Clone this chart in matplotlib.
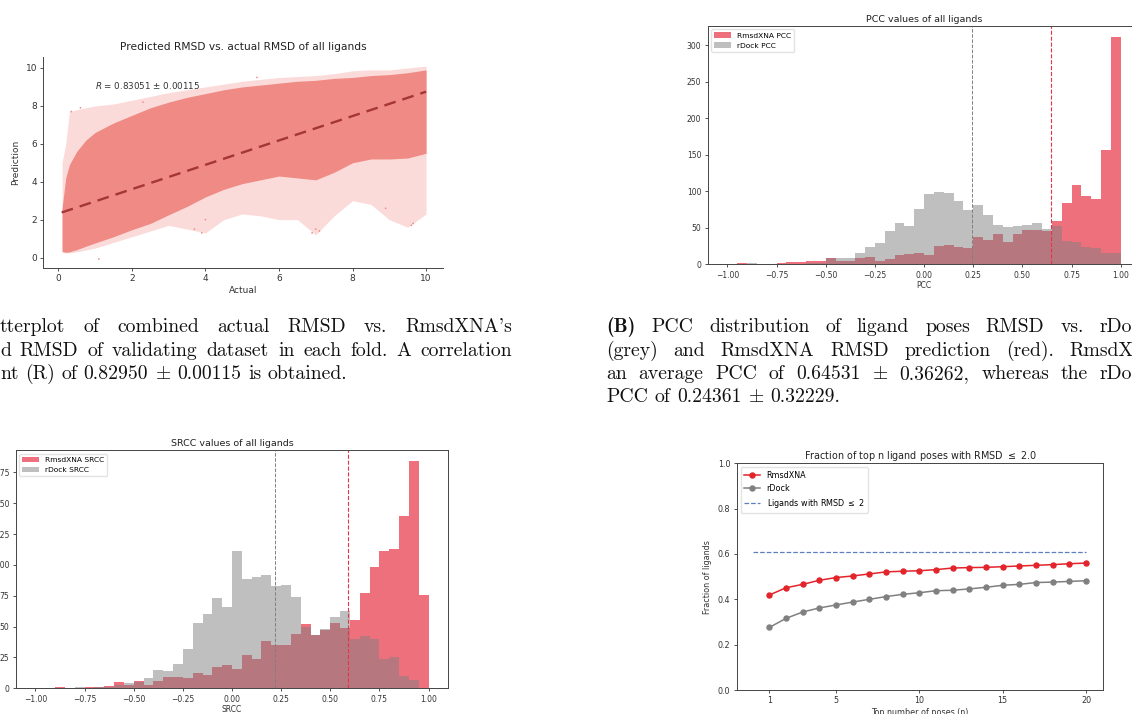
import numpy as np
import matplotlib
matplotlib.use("Agg")
import matplotlib.pyplot as plt

W, H = 1132, 714

# ---- panel A: predicted vs actual RMSD (point cloud read as envelopes) ----
cloud_x = [0.1, 0.2, 0.3, 0.5, 0.75, 1.0, 1.5, 2.0, 2.5, 3.0, 3.5, 4.0, 4.5, 5.0,
           5.5, 6.0, 6.5, 7.0, 7.5, 8.0, 8.5, 9.0, 9.5, 10.0]
dense_top = [2.6, 4.2, 4.9, 5.6, 6.2, 6.6, 7.1, 7.5, 7.9, 8.2, 8.45, 8.65, 8.85, 9.0,
             9.1, 9.2, 9.3, 9.35, 9.45, 9.5, 9.6, 9.65, 9.75, 9.9]
dense_bot = [0.33, 0.28, 0.3, 0.42, 0.6, 0.77, 1.1, 1.47, 1.8, 2.26, 2.7, 3.2, 3.6, 3.9,
             4.1, 4.3, 4.2, 4.1, 4.5, 5.0, 5.2, 5.2, 5.25, 5.5]
sparse_top = [5.0, 6.0, 7.7, 7.8, 7.9, 8.0, 8.1, 8.3, 8.5, 8.7, 8.85, 9.0, 9.15, 9.3,
              9.4, 9.5, 9.55, 9.6, 9.7, 9.85, 9.9, 9.9, 10.0, 10.1]
sparse_bot = [0.25, 0.25, 0.25, 0.3, 0.4, 0.5, 0.8, 1.1, 1.4, 1.7, 1.5, 1.3, 2.0, 2.3,
              2.2, 2.0, 2.0, 1.2, 2.2, 3.0, 2.8, 2.0, 1.6, 2.3]
stray_x = [1.1, 0.35, 0.6, 3.7, 3.9, 4.0, 6.9, 7.0, 7.1, 9.6, 9.65, 5.4, 2.3, 8.9]
stray_y = [-0.07, 7.7, 7.9, 1.5, 1.3, 2.0, 1.3, 1.5, 1.4, 1.7, 1.8, 9.5, 8.2, 2.6]
fit_x = [0.09, 10.0]
fit_y = [2.38, 8.75]
r_text = r"$R$ = 0.83051 ± 0.00115"

# ---- panels B and C: histograms, 40 bins from -1 to 1 ----
bin_edges = np.linspace(-1, 1, 41)
bin_mid = (bin_edges[:-1] + bin_edges[1:]) / 2
pcc_xna = [0, 2, 1, 0, 0, 2, 3, 3, 4, 5, 9, 4, 5, 8, 10, 5, 7, 13, 14, 16,
           13, 25, 26, 24, 22, 37, 33, 42, 31, 41, 47, 47, 46, 59, 84, 108, 93, 89, 156, 311]
pcc_rdock = [0, 0, 2, 0, 0, 1, 1, 1, 2, 2, 8, 8, 8, 15, 23, 29, 46, 56, 53, 76,
             96, 99, 97, 87, 74, 81, 68, 54, 51, 52, 54, 56, 48, 52, 32, 30, 23, 22, 15, 16]
pcc_mean_xna, pcc_mean_rdock = 0.64531, 0.24361
srcc_xna = [0, 0, 1, 0, 0, 1, 1, 2, 5, 3, 6, 3, 6, 9, 9, 8, 12, 11, 17, 19,
            16, 27, 24, 38, 35, 35, 44, 52, 43, 47, 53, 49, 55, 77, 98, 111, 113, 140, 184, 76]
srcc_rdock = [0, 0, 0, 0, 1, 0, 1, 1, 3, 4, 5, 8, 15, 14, 20, 32, 53, 60, 73, 66,
              111, 89, 90, 92, 83, 84, 74, 50, 43, 48, 58, 63, 40, 42, 40, 24, 25, 10, 7, 0]
srcc_mean_xna, srcc_mean_rdock = 0.588, 0.217

# ---- panel D: fraction of top-n poses ----
top_n = list(range(1, 21))
frac_xna = [0.419, 0.451, 0.466, 0.484, 0.496, 0.503, 0.512, 0.521, 0.524, 0.526,
            0.531, 0.538, 0.540, 0.541, 0.544, 0.547, 0.550, 0.553, 0.557, 0.560]
frac_rdock = [0.276, 0.316, 0.344, 0.362, 0.375, 0.388, 0.400, 0.412, 0.422, 0.429,
              0.438, 0.440, 0.446, 0.453, 0.462, 0.466, 0.474, 0.476, 0.479, 0.482]
frac_all = 0.607

RED = (0.9, 0.2, 0.27)
SPINE = "#444444"

fig = plt.figure(figsize=(W / 100, H / 100), dpi=100)


def add_ax(l, t, r, b):
    return fig.add_axes([l / W, 1 - b / H, (r - l) / W, (b - t) / H])


def style(ax, fs):
    for s in ax.spines.values():
        s.set_linewidth(0.7)
        s.set_color(SPINE)
    ax.tick_params(labelsize=fs, length=2.5, width=0.6, pad=2, colors="#333333")


# A
ax = add_ax(43.3, 56.6, 443, 268)
ax.fill_between(cloud_x, sparse_bot, sparse_top, color="#f08a84", alpha=0.3, lw=0)
ax.fill_between(cloud_x, dense_bot, dense_top, color="#f08a84", lw=0)
ax.scatter(stray_x, stray_y, s=1.5, color="#f08a84", edgecolors="none")
ax.plot(fit_x, fit_y, ls=(0, (5, 3)), lw=1.7, color="#a53636")
ax.text(1.0, 9.1, r_text, fontsize=6.3, va="center", color="#333333")
ax.set_xlim(-0.41, 10.46)
ax.set_ylim(-0.55, 10.6)
ax.set_xticks([0, 2, 4, 6, 8, 10])
ax.set_yticks([0, 2, 4, 6, 8, 10])
ax.spines["top"].set_visible(False)
ax.spines["right"].set_visible(False)
style(ax, 6.5)
ax.set_title("Predicted RMSD vs. actual RMSD of all ligands", fontsize=7.7, pad=5, color="#222222")
ax.set_xlabel("Actual", fontsize=6.5, labelpad=2, color="#333333")
ax.set_ylabel("Prediction", fontsize=6.5, labelpad=4, color="#333333")


def hist_panel(ax, xna, rdock, m_xna, m_rdock, name):
    ax.hist(bin_mid, bins=bin_edges, weights=xna, color=RED, alpha=0.7, label="RmsdXNA " + name)
    ax.hist(bin_mid, bins=bin_edges, weights=rdock, color="grey", alpha=0.5, label="rDock " + name)
    ax.axvline(m_rdock, color="grey", ls="--", lw=0.7)
    ax.axvline(m_xna, color=RED, ls="--", lw=0.8)
    ax.set_xlim(-1.1, 1.1)
    ax.set_ylim(0, max(xna) * 1.05)
    ax.set_xticks(np.arange(-1, 1.01, 0.25))
    style(ax, 5.5)
    ax.set_title(name + " values of all ligands", fontsize=6.8, pad=3, color="#222222")
    ax.set_xlabel(name, fontsize=5.5, labelpad=1, color="#333333")
    ax.legend(loc="upper left", fontsize=5.4, frameon=True, framealpha=0.8,
              edgecolor="#dddddd", fancybox=True, handlelength=2.2, borderpad=0.4)


# B
ax = add_ax(707.7, 25.7, 1140.5, 264.3)
hist_panel(ax, pcc_xna, pcc_rdock, pcc_mean_xna, pcc_mean_rdock, "PCC")

# C
ax = add_ax(15.7, 450, 448.3, 688.3)
hist_panel(ax, srcc_xna, srcc_rdock, srcc_mean_xna, srcc_mean_rdock, "SRCC")

# D
ax = add_ax(736.7, 463.3, 1103.3, 690)
ax.plot(top_n, frac_xna, "-o", color="#e3242b", ms=3.6, lw=1.1, label="RmsdXNA")
ax.plot(top_n, frac_rdock, "-o", color="grey", ms=3.6, lw=1.1, label="rDock")
ax.hlines(frac_all, 0, 20, color="#5b7fbf", ls="--", lw=0.9, label=r"Ligands with RMSD $\leq$ 2")
ax.set_ylim(0, 1.0)
ax.set_xlim(-0.96, 21.04)
ax.set_xticks([1, 5, 10, 15, 20])
style(ax, 5.8)
ax.set_title(r"Fraction of top n ligand poses with RMSD $\leq$ 2.0", fontsize=6.9, pad=3, color="#222222")
ax.set_xlabel("Top number of poses (n)", fontsize=5.8, labelpad=2, color="#333333")
ax.set_ylabel("Fraction of ligands", fontsize=5.8, labelpad=4, color="#333333")
ax.legend(loc="upper left", fontsize=5.8, frameon=True, edgecolor="#dddddd", borderpad=0.4)

# ---- captions (page text, cut at the crop edges) ----
CAP = dict(family=["cmr10", "DejaVu Serif"], fontsize=14.2, math_fontfamily="cm", color="#111111")
renderer = fig.canvas.get_renderer()


def cap_line(words, x0, y, x1=None, bold_first=False):
    texts = []
    for i, w in enumerate(words):
        kw = dict(CAP)
        if bold_first and i == 0:
            kw["family"] = ["cmb10", "DejaVu Serif"]
        texts.append(fig.text(x0 / W, 1 - y / H, w, va="baseline", ha="left", **kw))
    widths = [t.get_window_extent(renderer).width for t in texts]
    space = 0.333 * CAP["fontsize"] * 100 / 72
    if x1 is not None and len(words) > 1:
        space = (x1 - x0 - sum(widths)) / (len(words) - 1)
    x = x0
    for t, wd in zip(texts, widths):
        t.set_x(x / W)
        x += wd + space


cap_line("tterplot of combined actual RMSD vs. RmsdXNA's".split(), 0, 332, 512)
cap_line("d RMSD of validating dataset in each fold. A correlation".split(), 0, 356, 512)
cap_line(r"nt (R) of 0.82950 $\pm$ 0.00115 is obtained.".split(" "), 0, 379)

cap_line("(B) PCC distribution of ligand poses RMSD vs. rDo".split(), 606, 332, 1132, bold_first=True)
cap_line("(grey) and RmsdXNA RMSD prediction (red). RmsdX".split(), 606, 356, 1134)
cap_line(r"an average PCC of 0.64531 $\pm$ 0.36262, whereas the rDo".split(" "), 606, 379, 1132)
cap_line(r"PCC of 0.24361 $\pm$ 0.32229.".split(" "), 606, 402)

fig.savefig("out.png", dpi=100)
